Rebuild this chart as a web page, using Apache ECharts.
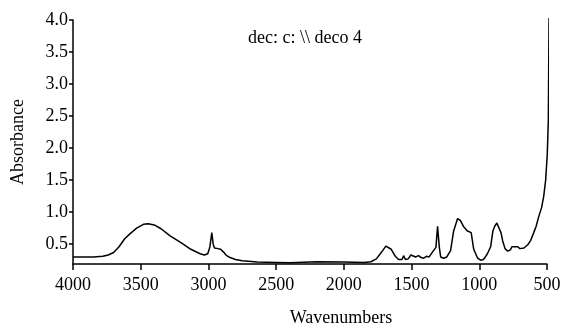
<!DOCTYPE html>
<html>
<head>
<meta charset="utf-8">
<script src="https://cdn.jsdelivr.net/npm/echarts@6/dist/echarts.min.js"></script>
<style>
  html, body { margin: 0; padding: 0; background: #fff; }
  #chart { width: 568px; height: 329px; }
</style>
</head>
<body>
<div id="chart"></div>
<script>
const serif = '"Liberation Serif", "Times New Roman", serif';

// spectrum
const wavenumbers = [
  4000, 3850, 3780, 3740, 3700, 3660, 3620, 3580, 3530, 3480, 3445, 3400, 3350, 3283, 3200, 3130, 3061, 3030, 3005, 2990,
  2975, 2965, 2955, 2930, 2910, 2890, 2870, 2850, 2800, 2750, 2640, 2500, 2400, 2395, 2200, 2000, 1850, 1800, 1760, 1720,
  1690, 1677, 1650, 1620, 1596, 1570, 1559, 1545, 1525, 1505, 1493, 1470, 1448, 1430, 1411, 1390, 1370, 1345, 1320, 1308,
  1295, 1285, 1263, 1240, 1212, 1190, 1160, 1140, 1115, 1090, 1060, 1041, 1012, 990, 970, 955, 940, 925, 916, 900,
  886, 870, 857, 840, 827, 810, 790, 770, 760, 716, 700, 694, 670, 642, 620, 598, 580, 561, 540, 524,
  510, 498, 490, 485, 481, 474, 464, 452
];
const absorbance = [
  0.30, 0.30, 0.31, 0.33, 0.37, 0.46, 0.58, 0.66, 0.75, 0.81, 0.82, 0.80, 0.74, 0.63, 0.52, 0.42, 0.35, 0.33, 0.35, 0.45,
  0.68, 0.50, 0.44, 0.43, 0.42, 0.38, 0.33, 0.30, 0.26, 0.24, 0.22, 0.215, 0.21, 0.225, 0.225, 0.22, 0.215, 0.225, 0.27, 0.38,
  0.47, 0.48, 0.42, 0.31, 0.26, 0.26, 0.32, 0.26, 0.27, 0.33, 0.35, 0.30, 0.32, 0.29, 0.28, 0.31, 0.30, 0.38, 0.45, 0.78,
  0.45, 0.30, 0.28, 0.30, 0.40, 0.70, 0.90, 0.87, 0.77, 0.71, 0.68, 0.42, 0.28, 0.25, 0.26, 0.30, 0.35, 0.42, 0.46, 0.70,
  0.78, 0.83, 0.81, 0.68, 0.55, 0.43, 0.39, 0.41, 0.46, 0.46, 0.43, 0.41, 0.44, 0.49, 0.56, 0.68, 0.78, 0.93, 1.07, 1.25,
  1.5, 1.9, 2.45, 4.03, 3.4, 2.4, 1.7, 1.28
];
const yTicks = [0.5, 1.0, 1.5, 2.0, 2.5, 3.0, 3.5, 4.0];
const titleText = 'dec: c: \\\\ deco 4';

const chart = echarts.init(document.getElementById('chart'), null, { renderer: 'canvas' });

const option = {
  animation: false,
  backgroundColor: '#fff',
  title: {
    text: titleText,
    left: 243,
    top: 24,
    textStyle: { fontFamily: serif, fontSize: 18, fontWeight: 'normal', color: '#000' }
  },
  grid: { left: 73, right: 21, top: 20, bottom: 65, outerBoundsMode: 'none' },
  xAxis: {
    type: 'value',
    inverse: true,
    min: 500,
    max: 4000,
    interval: 500,
    name: 'Wavenumbers',
    nameLocation: 'middle',
    nameGap: 45,
    nameMoveOverlap: false,
    nameTextStyle: { fontFamily: serif, fontSize: 18, color: '#000', padding: [0, 0, 0, 62] },
    axisLine: { lineStyle: { color: '#000', width: 1.5 } },
    axisTick: { length: 6, lineStyle: { color: '#000', width: 1.5 } },
    axisLabel: { fontFamily: serif, fontSize: 18, color: '#000', margin: 12, formatter: v => String(v) },
    splitLine: { show: false }
  },
  yAxis: {
    type: 'value',
    min: 0.19,
    max: 4.0,
    name: 'Absorbance',
    nameLocation: 'middle',
    nameRotate: 90,
    nameGap: 46,
    nameMoveOverlap: false,
    nameTextStyle: { fontFamily: serif, fontSize: 18, color: '#000' },
    axisLine: { show: true, lineStyle: { color: '#000', width: 1.5 } },
    axisTick: { show: true, length: 4, customValues: yTicks, lineStyle: { color: '#000', width: 1.5 } },
    axisLabel: {
      fontFamily: serif, fontSize: 18, color: '#000', margin: 5,
      customValues: yTicks,
      formatter: v => v.toFixed(1)
    },
    splitLine: { show: false }
  },
  series: [{
    type: 'line',
    data: wavenumbers.map((w, i) => [w, absorbance[i]]),
    showSymbol: false,
    clip: false,
    lineStyle: { color: '#000', width: 1.5 }
  }]
};

chart.setOption(option);
</script>
</body>
</html>
